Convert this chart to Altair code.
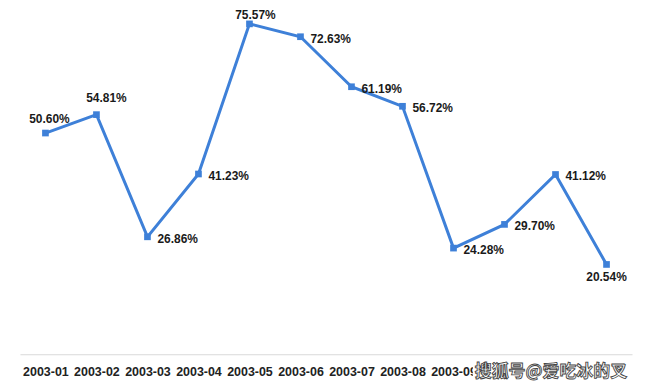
import altair as alt
import pandas as pd

months = ["2003-01", "2003-02", "2003-03", "2003-04", "2003-05", "2003-06",
          "2003-07", "2003-08", "2003-09", "2003-10", "2003-11", "2003-12"]
values = [50.60, 54.81, 26.86, 41.23, 75.57, 72.63, 61.19, 56.72, 24.28, 29.70, 41.12, 20.54]
labels = [f"{v:.2f}%" for v in values]
hidden_ticks = ["2003-10", "2003-11", "2003-12"]  # covered by the watermark in the reference
watermark = "搜狐号@爱吃冰的叉"

df = pd.DataFrame({"month": months, "value": values, "label": labels})

LINE = "#3E80D8"
FONT = "Liberation Sans"

hide_expr = " || ".join([f"datum.value == '{m}'" for m in hidden_ticks])
x = alt.X("month:N", sort=months, title=None,
          axis=alt.Axis(labelAngle=0, ticks=False, grid=False, domainColor="#d9d9d9",
                        domainWidth=1, labelFont=FONT, labelFontSize=12.5,
                        labelFontWeight="bold", labelColor="#222222", labelPadding=11,
                        labelExpr=f"({hide_expr}) ? '' : datum.label"))
y = alt.Y("value:Q", scale=alt.Scale(domain=[0, 79], nice=False, zero=True),
          axis=None)

base = alt.Chart(df).encode(x=x, y=y)

line = base.mark_line(color=LINE, strokeWidth=3)
pts = base.mark_point(shape="square", filled=True, color=LINE, size=45, opacity=1)


def text_layer(sel, dx, dy, align):
    return base.mark_text(font=FONT, fontSize=12, fontWeight="bold", color="#1a1a1a",
                          dx=dx, dy=dy, align=align, baseline="middle").encode(
        text="label:N").transform_filter(alt.FieldOneOfPredicate(field="month", oneOf=sel))


t_right = text_layer(["2003-03", "2003-04", "2003-06", "2003-07", "2003-08",
                      "2003-09", "2003-10", "2003-11"], 10, 2, "left")
t01 = text_layer(["2003-01"], 4, -14, "center")
t02 = text_layer(["2003-02"], 10, -17, "center")
t05 = text_layer(["2003-05"], 6, -9, "center")
t12 = text_layer(["2003-12"], 0, 13, "center")

wm_df = pd.DataFrame({"t": [watermark]})
wm_bg = alt.Chart(wm_df).mark_rect(color="white").encode(
    x=alt.value(455), x2=alt.value(618), y=alt.value(354), y2=alt.value(373))
wm = alt.Chart(wm_df).mark_text(font="Noto Sans CJK SC", fontSize=17, fontWeight="bold",
                                 color="white", stroke="#444444", strokeWidth=0.9,
                                 align="left", baseline="middle").encode(
    text="t:N", x=alt.value(457), y=alt.value(365))

chart = alt.layer(line, pts, t_right, t01, t02, t05, t12, wm_bg, wm).properties(
    width=615, height=347,
    padding={"left": 12, "top": 0, "right": 2, "bottom": 0},
    background="white",
).configure_view(stroke=None)

chart.save("out.html", embed_options={"renderer": "svg", "actions": False})
